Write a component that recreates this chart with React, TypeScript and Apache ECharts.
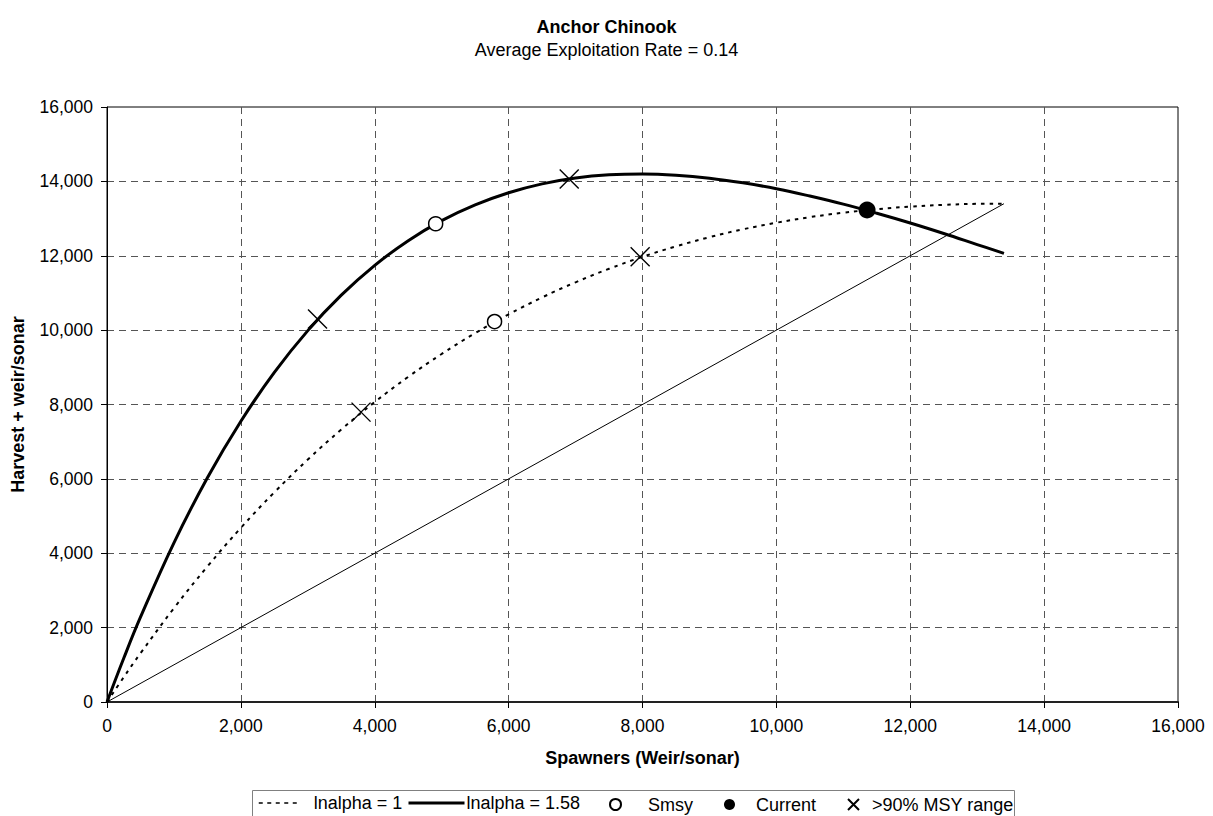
import React, { useEffect, useRef } from "react";
import * as echarts from "echarts";

const FONT = "'Liberation Sans', Arial, Helvetica, sans-serif";

const titleText = "Anchor Chinook";
const subtitleText = "Average Exploitation Rate = 0.14";
const xAxisName = "Spawners (Weir/sonar)";
const yAxisName = "Harvest + weir/sonar";

const spawners = [0, 250, 500, 1000, 1500, 2000, 2500, 3000, 3500, 4000, 4500, 5000, 5500, 6000, 6500, 7000, 7500, 8000, 8500, 9000, 9500, 10000, 10500, 11000, 11500, 12000, 12500, 13000, 13400];
const returnsLnAlpha1 = [0, 667, 1309, 2523, 3645, 4683, 5639, 6519, 7327, 8067, 8743, 9359, 9918, 10424, 10879, 11286, 11649, 11971, 12253, 12499, 12711, 12888, 13038, 13157, 13251, 13322, 13368, 13396, 13400];
const returnsLnAlpha158 = [0, 1176, 2280, 4281, 6030, 7550, 8863, 9987, 10940, 11742, 12405, 12944, 13367, 13694, 13933, 14090, 14176, 14200, 14167, 14087, 13961, 13803, 13606, 13388, 13143, 12881, 12599, 12301, 12063];
const replacementLine = [[0, 0], [13400, 13400]];
const smsyPoints = [[4910, 12860], [5790, 10230]];
const currentPoints = [[11355, 13230]];
const msyRangePoints = [[3145, 10300], [6905, 14065], [3795, 7795], [7965, 11970]];

const seriesNames = ["lnalpha = 1", "lnalpha = 1.58", "Smsy", "Current", ">90% MSY range"];
const xTicks = { min: 0, max: 16000, interval: 2000 };
const yTicks = { min: 0, max: 16000, interval: 2000 };

const X_SYMBOL = "path://M0 0L10 10M10 0L0 10";

function fmt(v: number) {
  return v.toLocaleString("en-US");
}

export default function App() {
  const ref = useRef<HTMLDivElement>(null);
  useEffect(() => {
    if (!ref.current) return;
    const chart = echarts.init(ref.current, undefined, { renderer: "svg" });
    const textBase = { fontFamily: FONT, color: "#000" };
    const legendCommon = {
      show: true,
      orient: "horizontal",
      padding: 0,
      selectedMode: false,
      textStyle: { ...textBase, fontSize: 18 },
    };
    const option: any = {
      animation: false,
      backgroundColor: "#fff",
      textStyle: { fontFamily: FONT },
      title: {
        text: titleText,
        subtext: subtitleText,
        left: "center",
        top: 12,
        itemGap: 3,
        textStyle: { ...textBase, fontSize: 18, fontWeight: "bold", lineHeight: 20 },
        subtextStyle: { ...textBase, fontSize: 18, lineHeight: 20 },
      },
      grid: {
        left: 107,
        top: 107,
        width: 1071,
        height: 595,
        show: true,
        borderColor: "#000",
        borderWidth: 1,
        backgroundColor: "#fff",
      },
      xAxis: {
        type: "value",
        min: xTicks.min,
        max: xTicks.max,
        interval: xTicks.interval,
        name: xAxisName,
        nameLocation: "middle",
        nameGap: 47,
        nameTextStyle: { ...textBase, fontSize: 18, fontWeight: "bold" },
        axisLine: { show: true, lineStyle: { color: "#222", width: 2 } },
        axisTick: { show: true, length: 6, lineStyle: { color: "#000" } },
        axisLabel: { ...textBase, fontSize: 17.5, margin: 15, formatter: fmt },
        splitLine: {
          show: true,
          showMinLine: false,
          showMaxLine: false,
          lineStyle: { color: "#555", width: 1, type: [7, 5] },
        },
      },
      yAxis: {
        type: "value",
        min: yTicks.min,
        max: yTicks.max,
        interval: yTicks.interval,
        name: yAxisName,
        nameLocation: "middle",
        nameGap: 80,
        nameTextStyle: { ...textBase, fontSize: 18, fontWeight: "bold" },
        axisLine: { show: true, lineStyle: { color: "#000", width: 1 } },
        axisTick: { show: true, length: 6, lineStyle: { color: "#000" } },
        axisLabel: { ...textBase, fontSize: 17.5, margin: 14, formatter: fmt },
        splitLine: {
          show: true,
          showMinLine: false,
          showMaxLine: false,
          lineStyle: { color: "#555", width: 1, type: [7, 5] },
        },
      },
      legend: [
        { ...legendCommon, data: [seriesNames[0]], left: 258, top: 794, itemWidth: 42, itemHeight: 14, itemStyle: { opacity: 0 }, lineStyle: { width: 1.5, type: [4, 4.5] }, textStyle: { ...legendCommon.textStyle, padding: [0, 0, 0, 8] } },
        { ...legendCommon, data: [seriesNames[1]], left: 407, top: 794, itemWidth: 56, itemHeight: 14, itemStyle: { opacity: 0 }, lineStyle: { width: 3 }, textStyle: { ...legendCommon.textStyle, padding: [0, 0, 0, -3] } },
        { ...legendCommon, data: [seriesNames[2]], left: 609, top: 795.5, itemWidth: 11, itemHeight: 11, textStyle: { ...legendCommon.textStyle, padding: [0, 0, 0, 22] } },
        { ...legendCommon, data: [seriesNames[3]], left: 724, top: 795.5, itemWidth: 11, itemHeight: 11, textStyle: { ...legendCommon.textStyle, padding: [0, 0, 0, 16] } },
        { ...legendCommon, data: [seriesNames[4]], left: 847, top: 795.5, itemWidth: 11, itemHeight: 11, textStyle: { ...legendCommon.textStyle, padding: [0, 0, 0, 8] } },
      ],
      graphic: [
        {
          type: "rect",
          shape: { x: 252.5, y: 790.5, width: 762, height: 40 },
          style: { fill: "none", stroke: "#808080", lineWidth: 1 },
          silent: true,
        },
      ],
      series: [
        {
          name: seriesNames[0],
          type: "line",
          data: spawners.map((s, i) => [s, returnsLnAlpha1[i]]),
          symbol: "none",
          smooth: 0.4,
          lineStyle: { color: "#000", width: 2, type: [3.5, 5] },
          itemStyle: { color: "#000" },
          z: 3,
        },
        {
          name: seriesNames[1],
          type: "line",
          data: spawners.map((s, i) => [s, returnsLnAlpha158[i]]),
          symbol: "none",
          smooth: 0.4,
          lineStyle: { color: "#000", width: 3 },
          itemStyle: { color: "#000" },
          z: 3,
        },
        {
          name: "Replacement",
          type: "line",
          data: replacementLine,
          symbol: "none",
          lineStyle: { color: "#000", width: 1 },
          itemStyle: { color: "#000" },
          z: 2,
        },
        {
          name: seriesNames[2],
          type: "scatter",
          data: smsyPoints,
          symbol: "circle",
          symbolSize: 14,
          itemStyle: { color: "#fff", borderColor: "#000", borderWidth: 1.5, opacity: 1 },
          z: 5,
        },
        {
          name: seriesNames[3],
          type: "scatter",
          data: currentPoints,
          symbol: "circle",
          symbolSize: 17,
          itemStyle: { color: "#000", opacity: 1 },
          z: 5,
        },
        {
          name: seriesNames[4],
          type: "scatter",
          data: msyRangePoints,
          symbol: X_SYMBOL,
          symbolSize: 19,
          itemStyle: { color: "transparent", borderColor: "#000", borderWidth: 1.4, opacity: 1 },
          z: 5,
        },
      ],
    };
    chart.setOption(option);
    return () => chart.dispose();
  }, []);
  return (
    <div
      ref={ref}
      style={{ position: "fixed", left: 0, top: 0, width: 1213, height: 816, background: "#fff" }}
    />
  );
}
